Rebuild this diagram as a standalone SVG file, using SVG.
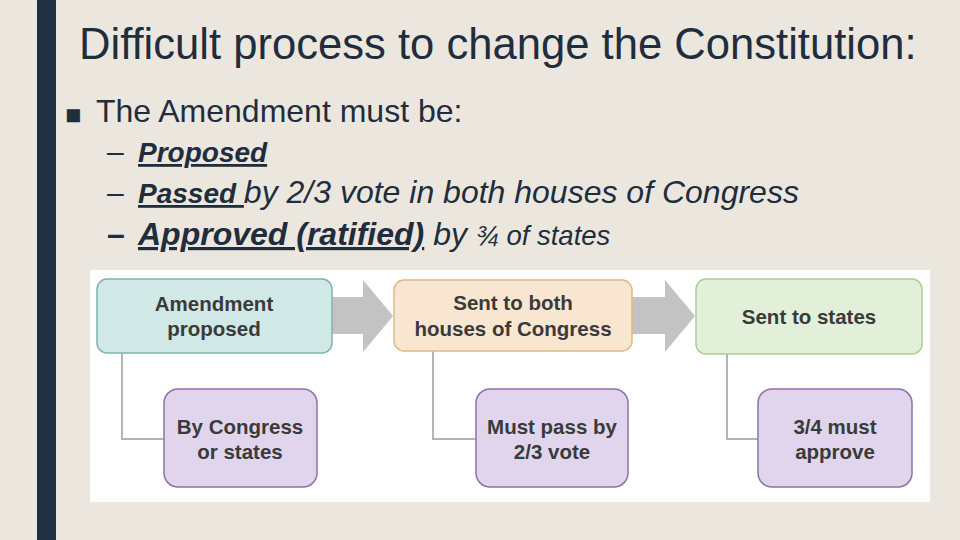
<svg xmlns="http://www.w3.org/2000/svg" width="960" height="540" viewBox="0 0 960 540">
<defs>
<style>
.t{font-family:"Liberation Sans",Arial,sans-serif;fill:#1f2d3d}
.bi{font-weight:bold;font-style:italic;text-decoration:underline}
.it{font-style:italic}
.bx{font-family:"Liberation Sans",Arial,sans-serif;font-weight:bold;font-size:20.5px;fill:#3a3a3a;text-anchor:middle}
.conn{fill:none;stroke:#b4b4b4;stroke-width:2}
.arrow{fill:#c3c3c3}
.purple{fill:#e0d5ec;stroke:#8d72a8;stroke-width:1.5}
</style>
</defs>
<rect width="960" height="540" fill="#ebe7df"/>
<rect x="37" y="0" width="19" height="540" fill="#1e3041"/>
<text class="t" x="79" y="59" font-size="43.6">Difficult process to change the Constitution:</text>
<text class="t" x="65" y="124" font-size="27">■</text>
<text class="t" x="96" y="122" font-size="32">The Amendment must be:</text>
<text class="t" x="107" y="162" font-size="30">–</text>
<text class="t bi" x="138" y="162" font-size="28">Proposed</text>
<text class="t" x="107" y="203" font-size="30">–</text>
<text class="t" x="138" y="203"><tspan class="bi" font-size="28">Passed </tspan><tspan class="it" font-size="32">by 2/3 vote in both houses of Congress</tspan></text>
<text class="t" x="107" y="245" font-size="32" font-weight="bold">–</text>
<text class="t" x="138" y="245"><tspan class="bi" font-size="32">Approved (ratified)</tspan><tspan class="it" font-size="32"> by </tspan><tspan class="it" font-size="27.5">¾ of states</tspan></text>
<rect x="90" y="270" width="840" height="232" fill="#ffffff"/>
<g id="connectors">
<polyline class="conn" points="122,353 122,439 164,439"/>
<polyline class="conn" points="433,351 433,439 476,439"/>
<polyline class="conn" points="727,354 727,439 758,439"/>
<polygon class="arrow" points="332,297 363,297 363,280 393,316 363,352 363,334 332,334"/>
<polygon class="arrow" points="632,297 665,297 665,280 695,316 665,352 665,334 632,334"/>
</g>
<g id="amendment-proposed">
<rect x="97" y="279" width="235" height="74" rx="10" fill="#d0e8e6" stroke="#7fb1b0" stroke-width="1.5"/>
<text class="bx" x="214" y="311">Amendment</text>
<text class="bx" x="214" y="336">proposed</text>
</g>
<g id="sent-to-both-houses">
<rect x="394" y="280" width="238" height="71" rx="10" fill="#f8e6d1" stroke="#e2b883" stroke-width="1.5"/>
<text class="bx" x="513" y="310">Sent to both</text>
<text class="bx" x="513" y="336">houses of Congress</text>
</g>
<g id="sent-to-states">
<rect x="696" y="279" width="226" height="75" rx="10" fill="#e2f0da" stroke="#a8d08e" stroke-width="1.5"/>
<text class="bx" x="809" y="324">Sent to states</text>
</g>
<g id="by-congress-or-states">
<rect class="purple" x="164" y="389" width="153" height="98" rx="14"/>
<text class="bx" x="240" y="434">By Congress</text>
<text class="bx" x="240" y="459">or states</text>
</g>
<g id="must-pass">
<rect class="purple" x="476" y="389" width="152" height="98" rx="14"/>
<text class="bx" x="552" y="434">Must pass by</text>
<text class="bx" x="552" y="459">2/3 vote</text>
</g>
<g id="three-quarters-approve">
<rect class="purple" x="758" y="389" width="154" height="98" rx="14"/>
<text class="bx" x="835" y="434">3/4 must</text>
<text class="bx" x="835" y="459">approve</text>
</g>
</svg>
